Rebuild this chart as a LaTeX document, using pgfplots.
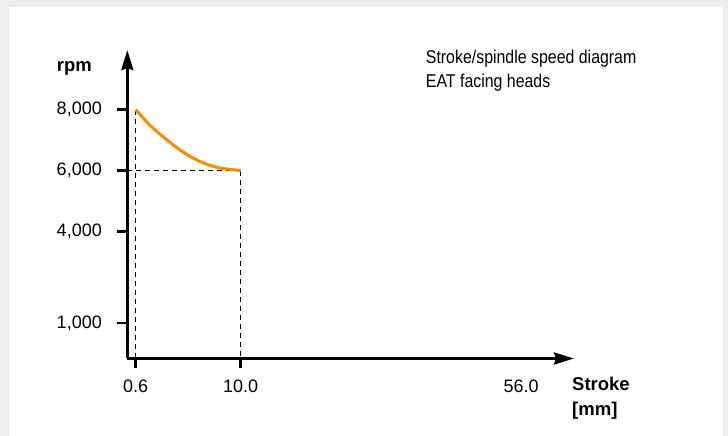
\documentclass[border=0pt]{standalone}
\usepackage{pgfplots}
\pgfplotsset{compat=1.18}
\usepackage{fontspec}
\setmainfont{Liberation Sans}
\newfontfamily\condfont[FakeStretch=0.86]{Liberation Sans}
\usetikzlibrary{arrows.meta}
\definecolor{bggray}{HTML}{EFEDEB}
\definecolor{curveorange}{HTML}{F28C00}
\begin{document}
\begin{tikzpicture}
\useasboundingbox (0,0) rectangle (728pt,-436pt);
\fill[bggray] (0,0) rectangle (728pt,-436pt);
\fill[white] (9pt,-7pt) rectangle (723pt,-436pt);
\begin{axis}[
  at={(129pt,-353.4pt)}, anchor=origin,
  x=11.17pt, y=0.030477pt,
  xmin=-0.15, xmax=39.84, ymin=-167, ymax=9955,
  axis lines=left,
  axis line style={line width=3pt, -{Stealth[length=20pt,width=12pt,inset=2pt]}},
  tick align=outside,
  major tick length=10pt,
  tick style={line width=2.6pt, black},
  xtick={0.6,10}, xticklabels={{0.6\hspace{5pt}},{10.0\hspace{20pt}}},
  extra x ticks={35.1}, extra x tick labels={{56.0}},
  extra x tick style={tick style={draw=none}},
  ytick={1000,4000,6000,8000},
  yticklabels={{1,000},{4,000},{6,000},{8,000}},
  ticklabel style={font=\fontsize{18}{20}\selectfont},
  xticklabel style={yshift=-8pt},
  yticklabel style={xshift=-12pt},
  scaled ticks=false,
  clip=false,
]
\addplot[black, line width=1.2pt, dash pattern=on 5pt off 4pt] coordinates {(0.6,8000) (0.6,-167)};
\addplot[black, line width=1.2pt, dash pattern=on 5pt off 4pt] coordinates {(-0.15,6000) (10,6000)};
\addplot[black, line width=1.2pt, dash pattern=on 5pt off 4pt] coordinates {(10,6000) (10,-167)};
\addplot[curveorange, line width=3pt, smooth] coordinates {
  (0.6,8000) (1.4,7674) (2.18,7384) (3.67,6925) (5.17,6528) (6.65,6252) (8.15,6085) (10,6000)
};
\end{axis}
\node[anchor=base west, inner sep=0pt, font=\fontsize{18.5}{20}\selectfont\bfseries] at (56.7pt,-71pt) {rpm};
\node[anchor=base west, inner sep=0pt, font=\fontsize{18.5}{20}\selectfont\condfont] at (425.7pt,-63.5pt) {Stroke/spindle speed diagram};
\node[anchor=base west, inner sep=0pt, font=\fontsize{18.5}{20}\selectfont\condfont] at (425.7pt,-87pt) {EAT facing heads};
\node[anchor=base west, inner sep=0pt, font=\fontsize{18.5}{20}\selectfont\bfseries] at (572pt,-390pt) {Stroke};
\node[anchor=base west, inner sep=0pt, font=\fontsize{18.5}{20}\selectfont\bfseries] at (572pt,-415pt) {[mm]};
\end{tikzpicture}
\end{document}
